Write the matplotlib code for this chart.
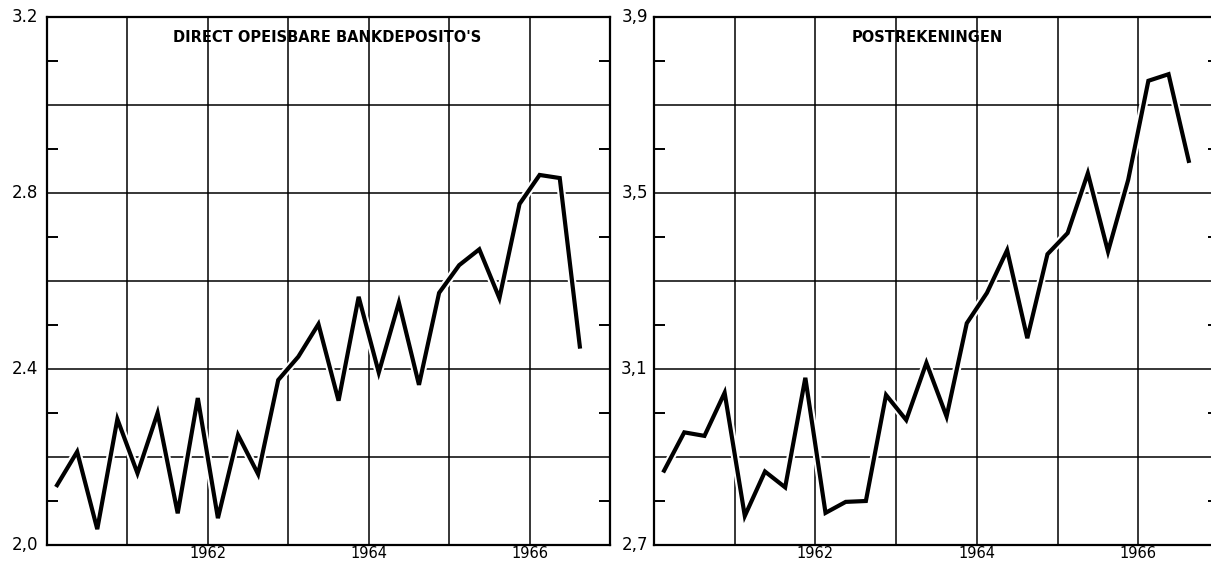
import numpy as np
import matplotlib
matplotlib.use('Agg')
import matplotlib.pyplot as plt
import matplotlib.patheffects as pe

# quarterly data, 1960 Q1 .. 1966 Q3
start_year = 1960
bank = [2.136, 2.212, 2.036, 2.286, 2.163, 2.300, 2.072, 2.334, 2.061, 2.250,
        2.161, 2.375, 2.428, 2.502, 2.328, 2.564, 2.392, 2.551, 2.364, 2.573,
        2.636, 2.672, 2.561, 2.775, 2.841, 2.834, 2.451]
post = [2.869, 2.956, 2.948, 3.046, 2.766, 2.867, 2.831, 3.080, 2.773, 2.798,
        2.800, 3.041, 2.984, 3.114, 2.992, 3.204, 3.273, 3.370, 3.170, 3.361,
        3.409, 3.545, 3.367, 3.530, 3.755, 3.770, 3.573]

titles = ["DIRECT OPEISBARE BANKDEPOSITO'S", "POSTREKENINGEN"]
title_x = [1963.48, 1963.39]
ylims = [(2.0, 3.2), (2.7, 3.9)]
ylabels = [["2,0", "2.4", "2.8", "3.2"], ["2,7", "3,1", "3,5", "3,9"]]
year_labels = {1962: "1962", 1964: "1964", 1966: "1966"}

plt.rcParams['font.family'] = 'DejaVu Sans'

fig = plt.figure(figsize=(12.11, 5.62), dpi=100)
W, H = 1211, 562
boxes = [(47, 17, 610, 545), (654, 17, 1219, 545)]
label_gap = [-0.016, -0.011]

for k, series in enumerate([bank, post]):
    x0, y0, x1, y1 = boxes[k]
    ax = fig.add_axes([x0 / W, (H - y1) / H, (x1 - x0) / W, (y1 - y0) / H])
    lo, hi = ylims[k]
    t = start_year + (np.arange(len(series)) + 0.5) / 4

    ax.set_xlim(1960, 1967)
    ax.set_ylim(lo, hi)

    years = np.arange(1961, 1967)
    ax.set_xticks(years)
    ax.set_xticklabels([year_labels.get(y, "") for y in years])
    major = np.round(np.arange(lo, hi + 0.01, 0.2), 2)
    ax.set_yticks(major)
    ax.set_yticklabels(["" for _ in major])
    lab_pos = np.round(np.arange(lo, hi + 0.01, 0.4), 2)
    for v, s in zip(lab_pos, ylabels[k]):
        ax.text(label_gap[k], v, s, transform=ax.get_yaxis_transform(),
                ha='right', va='center', fontsize=12)
    minor = np.round(np.arange(lo + 0.1, hi, 0.2), 2)
    ax.set_yticks(minor, minor=True)

    ax.tick_params(axis='x', which='major', length=0, labelsize=10.5, pad=0.5)
    ax.tick_params(axis='y', which='major', length=0)
    ax.tick_params(axis='y', which='minor', direction='in', length=8,
                   width=1.4, left=True, right=True, color='black')
    ax.grid(True, which='major', color='black', linewidth=1.1)
    ax.set_axisbelow(True)

    for sp in ax.spines.values():
        sp.set_linewidth(1.6)

    ax.plot(t, series, color='black', linewidth=3.0, solid_joinstyle='miter',
            path_effects=[pe.Stroke(linewidth=6, foreground='white', joinstyle='round'),
                          pe.Normal()],
            zorder=3)
    ax.text(title_x[k], hi - 0.046, titles[k], ha='center', va='center',
            fontsize=10.5, fontweight='bold', zorder=4)

fig.savefig('out.png', dpi=100)
